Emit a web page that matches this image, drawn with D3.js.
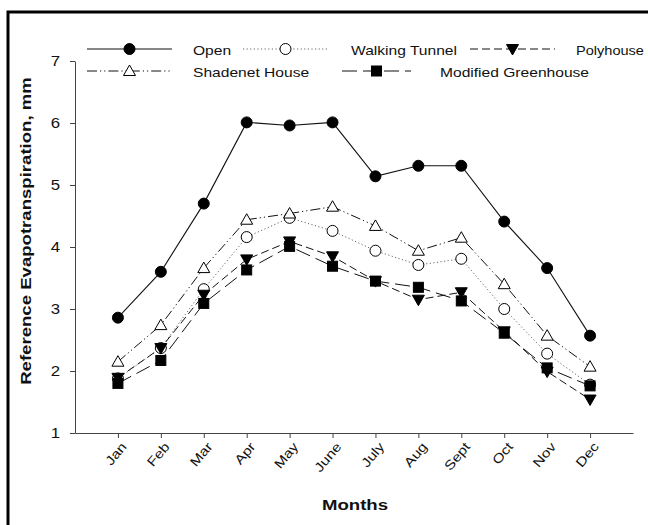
<!DOCTYPE html>
<html>
<head>
<meta charset="utf-8">
<script src="https://cdn.jsdelivr.net/npm/d3@7"></script>
<style>
  html, body { margin: 0; padding: 0; background: #fff; }
  svg { display: block; font-family: "Liberation Sans", Arial, sans-serif; }
</style>
</head>
<body>
<svg id="chart" width="648" height="525"></svg>
<script>
// Monthly reference evapotranspiration (mm) under five growing structures
const months = ["Jan","Feb","Mar","Apr","May","June","July","Aug","Sept","Oct","Nov","Dec"];
const open          = [2.86, 3.60, 4.70, 6.01, 5.96, 6.01, 5.14, 5.31, 5.31, 4.41, 3.66, 2.57];
const walkingTunnel = [1.88, 2.37, 3.32, 4.16, 4.47, 4.26, 3.94, 3.71, 3.81, 3.00, 2.28, 1.78];
const polyhouse     = [1.89, 2.37, 3.23, 3.80, 4.09, 3.85, 3.45, 3.15, 3.27, 2.64, 1.99, 1.54];
const shadenet      = [2.15, 2.74, 3.66, 4.44, 4.54, 4.65, 4.34, 3.94, 4.15, 3.40, 2.57, 2.07];
const modifiedGH    = [1.80, 2.17, 3.09, 3.63, 4.01, 3.69, 3.45, 3.35, 3.13, 2.61, 2.05, 1.76];
const yTicks = [1, 2, 3, 4, 5, 6, 7];

const series = [
  { name: "Open",                values: open,          dash: null,                 stroke: "#111", sw: 1.1, marker: "circle",  fill: "#000" },
  { name: "Walking Tunnel",      values: walkingTunnel, dash: "1.2,2.4",            stroke: "#666", sw: 1.0, marker: "circle",  fill: "#fff" },
  { name: "Polyhouse",           values: polyhouse,     dash: "8,4",                stroke: "#111", sw: 1.0, marker: "tridown", fill: "#000" },
  { name: "Shadenet House",      values: shadenet,      dash: "10,3,1.2,3,1.2,3",   stroke: "#111", sw: 1.0, marker: "triup",   fill: "#fff" },
  { name: "Modified Greenhouse", values: modifiedGH,    dash: "15,6",               stroke: "#111", sw: 1.0, marker: "square",  fill: "#000" }
];

// the lettering in this figure is set in a wide face: stretch it horizontally
const SX = 1.2;

const svg = d3.select("#chart");

// outer frame (open to the right and bottom)
svg.append("path")
  .attr("d", "M8,525 L8,12 L648,12")
  .attr("fill", "none").attr("stroke", "#000").attr("stroke-width", 3);

const x = d3.scalePoint().domain(months).range([75, 633]).padding(1);
const y = d3.scaleLinear().domain([1, 7]).range([433, 61]);

// axes
const xAxis = svg.append("g").attr("transform", "translate(0,433)")
  .call(d3.axisBottom(x).tickSize(5).tickSizeOuter(0));
xAxis.select(".domain").attr("stroke", "#444");
xAxis.selectAll(".tick line").attr("stroke", "#444");
xAxis.selectAll(".tick text")
  .attr("font-size", 13).attr("fill", "#111")
  .attr("text-anchor", "end")
  .attr("x", 0).attr("y", 0).attr("dy", 0)
  .attr("transform", `translate(9,14) rotate(-50) scale(${SX},1)`);

const yAxis = svg.append("g").attr("transform", "translate(75,0)")
  .call(d3.axisLeft(y).tickValues(yTicks).tickFormat(d3.format("d")).tickSize(5).tickSizeOuter(0));
yAxis.select(".domain").attr("stroke", "#444");
yAxis.selectAll(".tick line").attr("stroke", "#444");
yAxis.selectAll(".tick text").attr("font-size", 14).attr("fill", "#111")
  .attr("x", 0).attr("transform", `translate(-15,0) scale(${SX},1)`);

// axis titles
svg.append("text")
  .attr("transform", `translate(31,231) rotate(-90) scale(1.24,1)`)
  .attr("text-anchor", "middle")
  .attr("font-size", 15).attr("font-weight", "bold").attr("fill", "#111")
  .text("Reference Evapotranspiration, mm");

svg.append("text")
  .attr("transform", `translate(355,509.5) scale(${SX},1)`)
  .attr("text-anchor", "middle")
  .attr("font-size", 15.5).attr("font-weight", "bold").attr("fill", "#111")
  .text("Months");

// marker drawing helper
function drawMarker(g, kind, fill, cx, cy) {
  if (kind === "circle") {
    g.append("circle").attr("cx", cx).attr("cy", cy).attr("r", 5.5)
      .attr("fill", fill).attr("stroke", "#000").attr("stroke-width", 1);
  } else if (kind === "square") {
    g.append("rect").attr("x", cx - 5).attr("y", cy - 5).attr("width", 10).attr("height", 10)
      .attr("fill", fill).attr("stroke", "#000").attr("stroke-width", 1);
  } else if (kind === "triup") {
    g.append("path").attr("d", `M${cx},${cy - 6} L${cx + 6},${cy + 4.5} L${cx - 6},${cy + 4.5} Z`)
      .attr("fill", fill).attr("stroke", "#000").attr("stroke-width", 1);
  } else if (kind === "tridown") {
    g.append("path").attr("d", `M${cx - 6},${cy - 4.5} L${cx + 6},${cy - 4.5} L${cx},${cy + 6} Z`)
      .attr("fill", fill).attr("stroke", "#000").attr("stroke-width", 1);
  }
}

const line = d3.line().x((d, i) => x(months[i])).y(d => y(d));

// series lines, then markers
const plot = svg.append("g");
series.forEach(s => {
  plot.append("path").datum(s.values)
    .attr("d", line).attr("fill", "none")
    .attr("stroke", s.stroke).attr("stroke-width", s.sw)
    .attr("stroke-dasharray", s.dash);
});
series.forEach(s => {
  const g = plot.append("g");
  s.values.forEach((v, i) => drawMarker(g, s.marker, s.fill, x(months[i]), y(v)));
});

// legend (two rows; the last entry of the top row is squeezed to fit the page)
const legendItems = [
  { s: series[0], x0: 87,  x1: 172, tx: 193, ty: 49, sx: SX },
  { s: series[1], x0: 243, x1: 328, tx: 351, ty: 49, sx: SX },
  { s: series[2], x0: 470, x1: 555, tx: 576, ty: 49, sx: 1.12 },
  { s: series[3], x0: 87,  x1: 172, tx: 193, ty: 71, sx: SX },
  { s: series[4], x0: 342, x1: 411, tx: 440, ty: 71, sx: SX }
];
const legend = svg.append("g");
legendItems.forEach(it => {
  legend.append("line")
    .attr("x1", it.x0).attr("x2", it.x1).attr("y1", it.ty).attr("y2", it.ty)
    .attr("stroke", it.s.stroke).attr("stroke-width", it.s.sw)
    .attr("stroke-dasharray", it.s.dash);
  drawMarker(legend, it.s.marker, it.s.fill, (it.x0 + it.x1) / 2, it.ty);
  legend.append("text")
    .attr("transform", `translate(${it.tx},${it.ty + 5.5}) scale(${it.sx},1)`)
    .attr("font-size", 13).attr("fill", "#111")
    .text(it.s.name);
});
</script>
</body>
</html>
